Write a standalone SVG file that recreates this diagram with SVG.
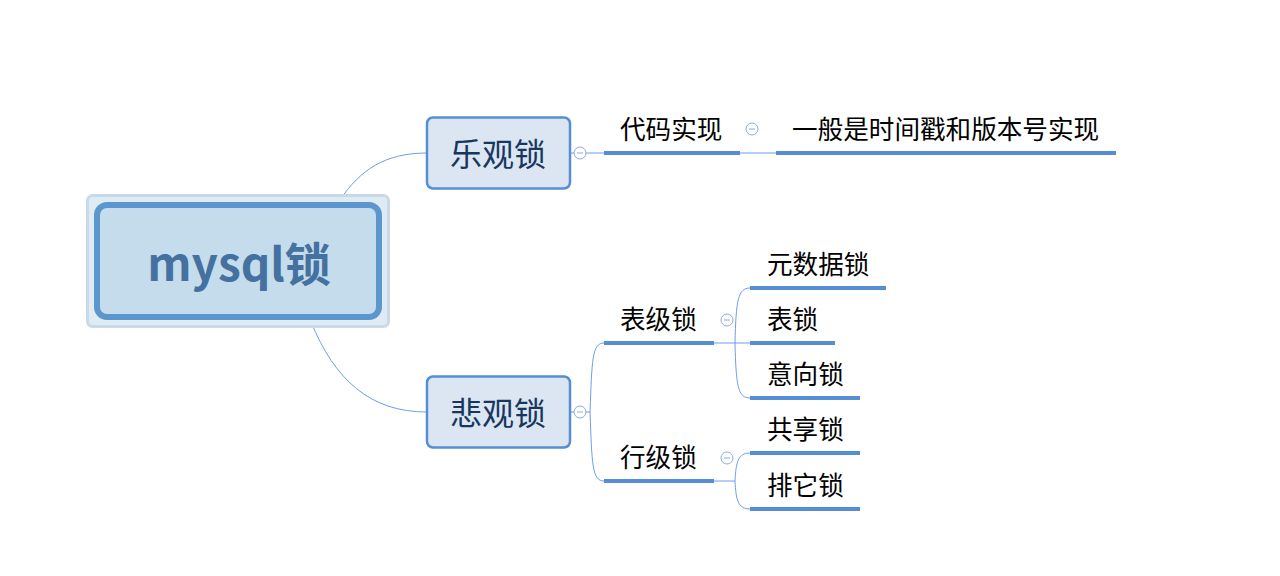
<svg xmlns="http://www.w3.org/2000/svg" width="1280" height="576" viewBox="0 0 1280 576">
<style>
.t{font-family:"Noto Sans CJK SC","Liberation Sans",sans-serif;fill:#000}
.sub{font-size:25.6px}
.main{fill:#dce6f2;stroke:#558ed5;stroke-width:2.5}
.mt{font-size:32px;fill:#17375e}
.ul{stroke:#558ed5;stroke-width:4;fill:none}
.ln{stroke:#6d9eeb;stroke-width:1;fill:none}
.cc{fill:#fff;stroke:#8eaadb;stroke-width:1}
.cm{stroke:#8eaadb;stroke-width:1}
</style>
<rect width="1280" height="576" fill="#fff"/>
<g id="connectors">
<path class="ln" d="M340,200 C360,170 385,153 427,153"/>
<path class="ln" d="M311,322 C335,380 370,412 427,412"/>
<path class="ln" d="M570,153 H604"/>
<path class="ln" d="M740,153 H776"/>
<path class="ln" d="M570,412 H590"/>
<path class="ln" d="M604,343 C592,343 592,360 590,412 C592,464 592,481 604,481"/>
<path class="ln" d="M714,343 H750"/>
<path class="ln" d="M750,288 C738,288 736,300 735,343 C736,386 738,398 750,398"/>
<path class="ln" d="M714,481 H735"/>
<path class="ln" d="M750,453 C738,453 736,462 735,481 C736,500 738,509 750,509"/>
</g>
<g id="root">
<rect x="87.5" y="195.5" width="301" height="131" rx="5" fill="#deebf2" stroke="#c9d9e7" stroke-width="3"/>
<rect x="97" y="205" width="282" height="112" rx="10" fill="#c5dcec" stroke="#5b96cf" stroke-width="6"/>
<text class="t" x="239" y="281" text-anchor="middle" font-size="46" font-weight="bold" style="fill:#44719f">mysql锁</text>
</g>
<g id="optimistic">
<rect class="main" x="427" y="117.5" width="143" height="71" rx="6"/>
<text class="t mt" x="498" y="166" text-anchor="middle">乐观锁</text>
<circle class="cc" cx="580" cy="153" r="6"/><line class="cm" x1="577" y1="153" x2="583" y2="153"/>
</g>
<g id="pessimistic">
<rect class="main" x="427" y="376.5" width="143" height="71" rx="6"/>
<text class="t mt" x="498" y="425" text-anchor="middle">悲观锁</text>
<circle class="cc" cx="580" cy="412" r="6"/><line class="cm" x1="577" y1="412" x2="583" y2="412"/>
</g>
<g id="code">
<line class="ul" x1="604" y1="153" x2="740" y2="153"/>
<text class="t sub" x="620" y="139">代码实现</text>
<circle class="cc" cx="752" cy="129" r="6"/><line class="cm" x1="749" y1="129" x2="755" y2="129"/>
</g>
<g id="version">
<line class="ul" x1="776" y1="153" x2="1116" y2="153"/>
<text class="t sub" x="792" y="139">一般是时间戳和版本号实现</text>
</g>
<g id="table-level">
<line class="ul" x1="604" y1="343" x2="714" y2="343"/>
<text class="t sub" x="620" y="329">表级锁</text>
<circle class="cc" cx="727" cy="320" r="6"/><line class="cm" x1="724" y1="320" x2="730" y2="320"/>
</g>
<g id="row-level">
<line class="ul" x1="604" y1="481" x2="714" y2="481"/>
<text class="t sub" x="620" y="467">行级锁</text>
<circle class="cc" cx="727" cy="458" r="6"/><line class="cm" x1="724" y1="458" x2="730" y2="458"/>
</g>
<g id="metadata">
<line class="ul" x1="750" y1="288" x2="886" y2="288"/>
<text class="t sub" x="767" y="274">元数据锁</text>
</g>
<g id="table">
<line class="ul" x1="750" y1="343" x2="835" y2="343"/>
<text class="t sub" x="767" y="329">表锁</text>
</g>
<g id="intent">
<line class="ul" x1="750" y1="398" x2="860" y2="398"/>
<text class="t sub" x="767" y="384">意向锁</text>
</g>
<g id="shared">
<line class="ul" x1="750" y1="453" x2="860" y2="453"/>
<text class="t sub" x="767" y="439">共享锁</text>
</g>
<g id="exclusive">
<line class="ul" x1="750" y1="509" x2="860" y2="509"/>
<text class="t sub" x="767" y="495">排它锁</text>
</g>
</svg>
